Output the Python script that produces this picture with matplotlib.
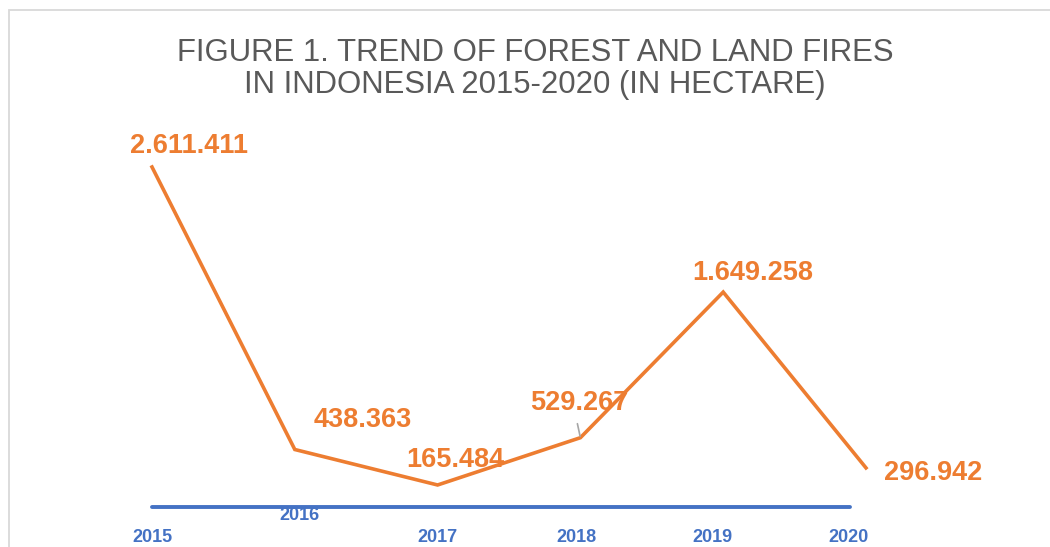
import matplotlib
matplotlib.use("Agg")
import matplotlib.pyplot as plt
from matplotlib.patches import Rectangle

years = [2015, 2016, 2017, 2018, 2019, 2020]
hectares = [2611411, 438363, 165484, 529267, 1649258, 296942]
value_labels = ["2.611.411", "438.363", "165.484", "529.267", "1.649.258", "296.942"]
year_labels = ["2015", "2016", "2017", "2018", "2019", "2020"]
title_lines = ["FIGURE 1. TREND OF FOREST AND LAND FIRES",
               "IN INDONESIA 2015-2020 (IN HECTARE)"]

ORANGE = "#ED7D31"
BLUE = "#4472C4"
GRAY = "#595959"
FONT = "Liberation Sans"

W, H = 1050, 547
fig = plt.figure(figsize=(W / 100, H / 100), dpi=100)
fig.patch.set_facecolor("white")

# chart frame (cropped on the right and bottom)
fig.patches.append(Rectangle((9 / W, -0.1), 1.2, (H - 10) / H + 0.1,
                             transform=fig.transFigure, fill=False,
                             edgecolor="#D9D9D9", linewidth=1.3, zorder=0))

left, right, top, bottom = 152, 866, 167, 506.5
ax = fig.add_axes([left / W, (H - bottom) / H, (right - left) / W, (bottom - top) / H])
ax.set_xlim(years[0], years[-1])
ax.set_ylim(0, max(hectares))
ax.axis("off")
ax.patch.set_alpha(0)

# blue baseline series
ax.hlines(0, years[0], years[-1] - 0.11, color=BLUE, linewidth=2.8,
          clip_on=False, zorder=2, capstyle="round")

ax.plot(years, hectares, color=ORANGE, linewidth=2.6, clip_on=False,
        zorder=3, solid_joinstyle="miter")

label_offsets = [(37, 21), (68, 29.5), (18, 25), (-1, 35), (30, 19), (67, -5)]
for x, y, lab, off in zip(years, hectares, value_labels, label_offsets):
    ax.annotate(lab, xy=(x, y), xytext=off, textcoords="offset pixels",
                ha="center", va="center", color=ORANGE, fontsize=19.5,
                fontweight="bold", family=FONT, zorder=4)

# leader line for 2018 label
ax.annotate("", xy=(years[3], hectares[3]), xytext=(-3, 14),
            textcoords="offset pixels",
            arrowprops=dict(arrowstyle="-", color="#A6A6A6", lw=1.2,
                            shrinkA=0, shrinkB=1))

year_offsets = [(0, -31), (5, -9.5), (-0.5, -31), (-4, -31.5), (-11, -31), (-17.5, -31)]
for x, lab, off in zip(years, year_labels, year_offsets):
    ax.annotate(lab, xy=(x, 0), xytext=off, textcoords="offset pixels",
                ha="center", va="center", color=BLUE, fontsize=13,
                fontweight="bold", family=FONT)

fig.text(535 / W, 1 - 53 / H, title_lines[0], ha="center", va="center",
         color=GRAY, fontsize=22.4, family=FONT)
fig.text(535 / W, 1 - 85 / H, title_lines[1], ha="center", va="center",
         color=GRAY, fontsize=22.4, family=FONT)

fig.savefig("out.png", dpi=100, facecolor="white")
